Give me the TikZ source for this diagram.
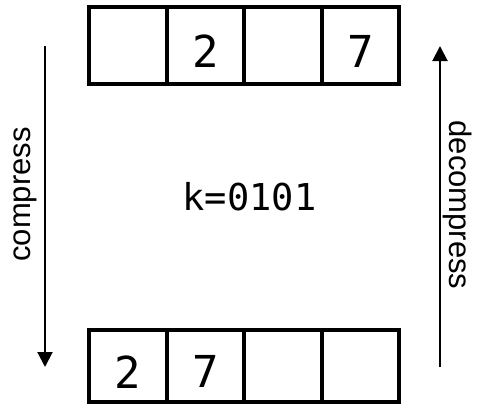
\documentclass[tikz,border=0pt]{standalone}
\usepackage{fontspec}
\newfontfamily\cellfont{DejaVu Sans Mono}
\newfontfamily\sidefont{Liberation Sans}
\usetikzlibrary{arrows.meta}
\begin{document}
\begin{tikzpicture}[x=1pt,y=-1pt,
    cell/.style={draw,line width=4pt,minimum width=77.5pt,inner sep=0pt},
    digit/.style={font=\cellfont\fontsize{44}{44}\selectfont},
    flow/.style={line width=2pt,-{Triangle[length=15pt,width=15pt]}},
    side/.style={font=\sidefont\fontsize{31}{31}\selectfont,inner sep=0pt}]
  \useasboundingbox (0,0) rectangle (477,405);
  % the two rows of cells
  \foreach \i in {1,...,4}{
    \node[cell,minimum height=77pt] (t\i) at (50.25+77.5*\i,45.5) {};
    \node[cell,minimum height=72.5pt] (b\i) at (50.25+77.5*\i,365.75) {};
  }
  \node[digit,yshift=-6pt] (t2v) at (t2.center) {2};
  \node[digit,yshift=-6pt] (t4v) at (t4.center) {7};
  \node[digit,yshift=-6pt] (b1v) at (b1.center) {2};
  \node[digit,yshift=-6pt] (b2v) at (b2.center) {7};
  % key
  \node[font=\cellfont\fontsize{37}{37}\selectfont] (key) at (249.5,197) {k=0101};
  % arrows
  \coordinate (cs) at (45,46);
  \coordinate (ce) at (45,367);
  \coordinate (ds) at (440,367);
  \coordinate (de) at (440,46);
  \draw[flow] (cs) -- (ce);
  \draw[flow] (ds) -- (de);
  \node[side,rotate=90] (comp) at (25.5,194.5) {compress};
  \node[side,rotate=-90] (decomp) at (458,205) {decompress};
\end{tikzpicture}
\end{document}
